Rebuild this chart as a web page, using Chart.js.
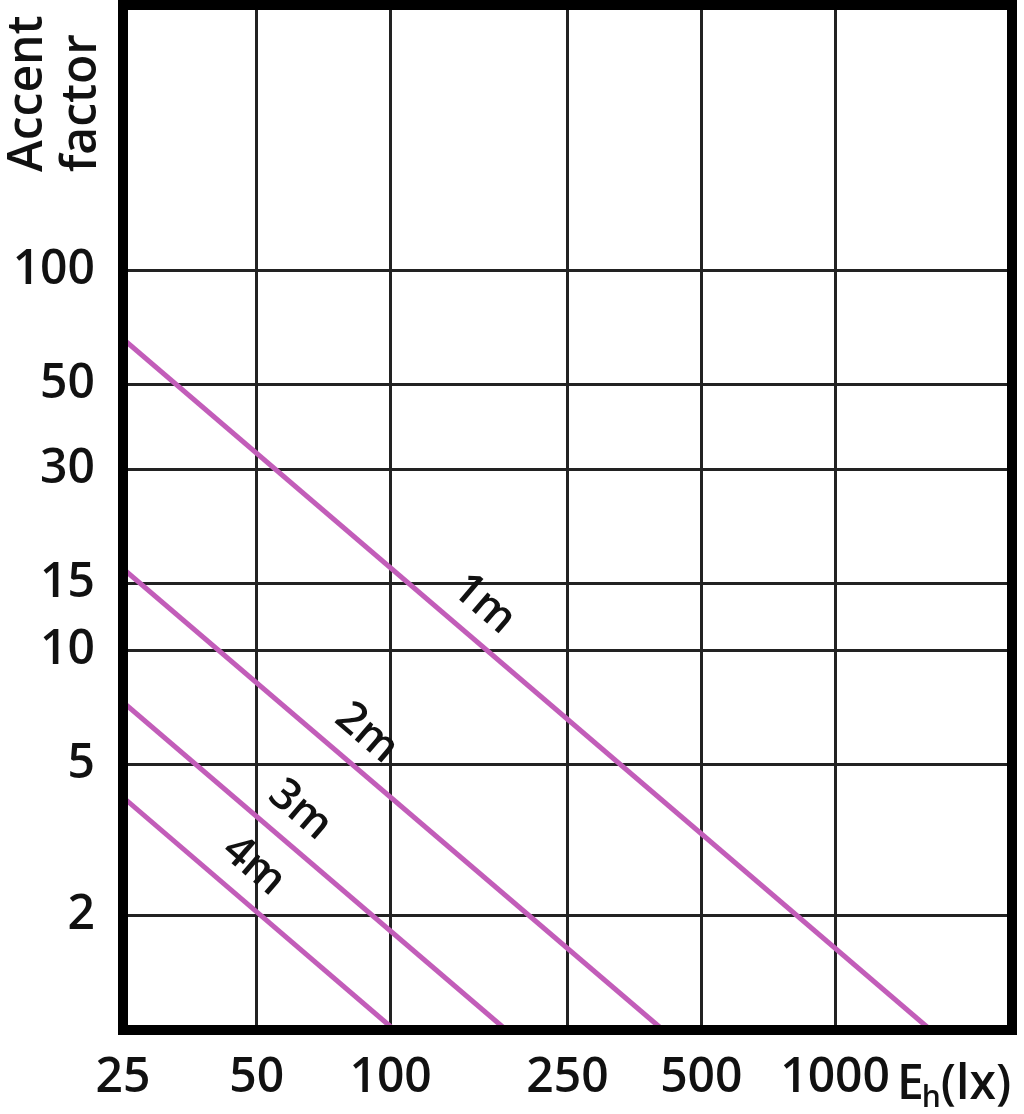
<!DOCTYPE html>
<html>
<head>
<meta charset="utf-8">
<script src="https://cdn.jsdelivr.net/npm/chart.js@4/dist/chart.umd.min.js"></script>
<style>
  html, body { margin: 0; padding: 0; background: #fff; }
  #wrap { width: 1024px; height: 1114px; }
</style>
</head>
<body>
<div id="wrap"><canvas id="c" width="1024" height="1114"></canvas></div>
<script>
// ---- data ----
const distances   = ['1m', '2m', '3m', '4m'];
const startLux    = [25, 25, 25, 25];
const startFactor = [66, 16.4, 7.3, 4.1];
const endLux      = [1640, 410, 182, 102];
const endFactor   = [1, 1, 1, 1];
const labelLux    = [145, 79, 56, 44];   // where each distance label sits along its line

const xTicks = [25, 50, 100, 250, 500, 1000];
const yTicks = [2, 5, 10, 15, 30, 50, 100];
const xRange = [25, 2500];
const yRange = [1, 500];

const yTitle = ['Accent', 'factor'];
const xTitleMain = 'E', xTitleSub = 'h', xTitleUnit = '(lx)';

// ---- styles ----
const LINE_COLOR = '#C25DB9';
const FONT = '"Open Sans", "Noto Sans", sans-serif';
const TICK_FONT = { family: FONT, size: 48, weight: '600' };

const datasets = distances.map((d, i) => ({
  label: d,
  data: [{x: startLux[i], y: startFactor[i]}, {x: endLux[i], y: endFactor[i]}],
  borderColor: LINE_COLOR,
  borderWidth: 5,
  pointRadius: 0,
  fill: false,
  tension: 0
}));

const decorPlugin = {
  id: 'decor',
  afterDatasetsDraw(chart) {
    const {ctx, chartArea: a, scales: {x, y}} = chart;
    // distance labels along lines
    ctx.save();
    ctx.fillStyle = '#111';
    ctx.font = '600 44px ' + FONT;
    ctx.textAlign = 'center';
    ctx.textBaseline = 'middle';
    distances.forEach((d, i) => {
      const x1 = x.getPixelForValue(startLux[i]), y1 = y.getPixelForValue(startFactor[i]);
      const x2 = x.getPixelForValue(endLux[i]),   y2 = y.getPixelForValue(endFactor[i]);
      const ang = Math.atan2(y2 - y1, x2 - x1);
      const px = x.getPixelForValue(labelLux[i]);
      const py = y1 + (y2 - y1) * (px - x1) / (x2 - x1);
      ctx.save();
      ctx.translate(px, py);
      ctx.rotate(ang);
      ctx.fillText(d, 0, -33);
      ctx.restore();
    });
    ctx.restore();
    // thick frame
    ctx.save();
    ctx.strokeStyle = '#000';
    ctx.lineWidth = 10;
    ctx.strokeRect(a.left, a.top, a.right - a.left, a.bottom - a.top);
    ctx.restore();
  },
  afterDraw(chart) {
    const {ctx} = chart;
    ctx.save();
    ctx.fillStyle = '#111';
    // y title, rotated
    ctx.translate(0, 172);
    ctx.rotate(-Math.PI / 2);
    ctx.font = '600 48px ' + FONT;
    ctx.textAlign = 'left';
    ctx.textBaseline = 'alphabetic';
    ctx.fillText(yTitle[0], 0, 42);
    ctx.fillText(yTitle[1], 0, 96);
    ctx.restore();
    // x title
    ctx.save();
    ctx.fillStyle = '#111';
    ctx.textBaseline = 'alphabetic';
    ctx.textAlign = 'left';
    let xx = 897;
    const base = 1099;
    ctx.font = '600 48px ' + FONT;
    ctx.fillText(xTitleMain, xx, base);
    xx += ctx.measureText(xTitleMain).width - 2;
    ctx.font = '600 30px ' + FONT;
    ctx.fillText(xTitleSub, xx, base + 8);
    xx += ctx.measureText(xTitleSub).width;
    ctx.font = '600 48px ' + FONT;
    ctx.fillText(xTitleUnit, xx, base);
    ctx.restore();
  }
};

new Chart(document.getElementById('c'), {
  type: 'line',
  data: { datasets },
  options: {
    responsive: false,
    animation: false,
    devicePixelRatio: 1,
    layout: { padding: { top: 5, right: 12, left: 0, bottom: 0 } },
    plugins: { legend: { display: false }, tooltip: { enabled: false }, title: { display: false } },
    scales: {
      x: {
        type: 'logarithmic',
        min: xRange[0], max: xRange[1],
        border: { display: false },
        grid: { color: '#222', lineWidth: 3, drawTicks: false },
        afterBuildTicks: s => { s.ticks = xTicks.map(v => ({value: v})); },
        afterFit: s => { s.height = 84; s.paddingLeft = 0; s.paddingRight = 0; },
        ticks: {
          autoSkip: false, maxRotation: 0, minRotation: 0,
          padding: 20,
          color: '#111',
          font: TICK_FONT,
          callback: v => String(v)
        }
      },
      y: {
        type: 'logarithmic',
        min: yRange[0], max: yRange[1],
        border: { display: false },
        grid: { color: '#222', lineWidth: 3, drawTicks: false },
        afterBuildTicks: s => { s.ticks = yTicks.map(v => ({value: v})); },
        afterFit: s => { s.width = 123; s.paddingTop = 0; s.paddingBottom = 0; },
        ticks: {
          autoSkip: false,
          padding: 28,
          color: '#111',
          font: TICK_FONT,
          callback: v => String(v)
        }
      }
    }
  },
  plugins: [decorPlugin]
});
</script>
</body>
</html>
